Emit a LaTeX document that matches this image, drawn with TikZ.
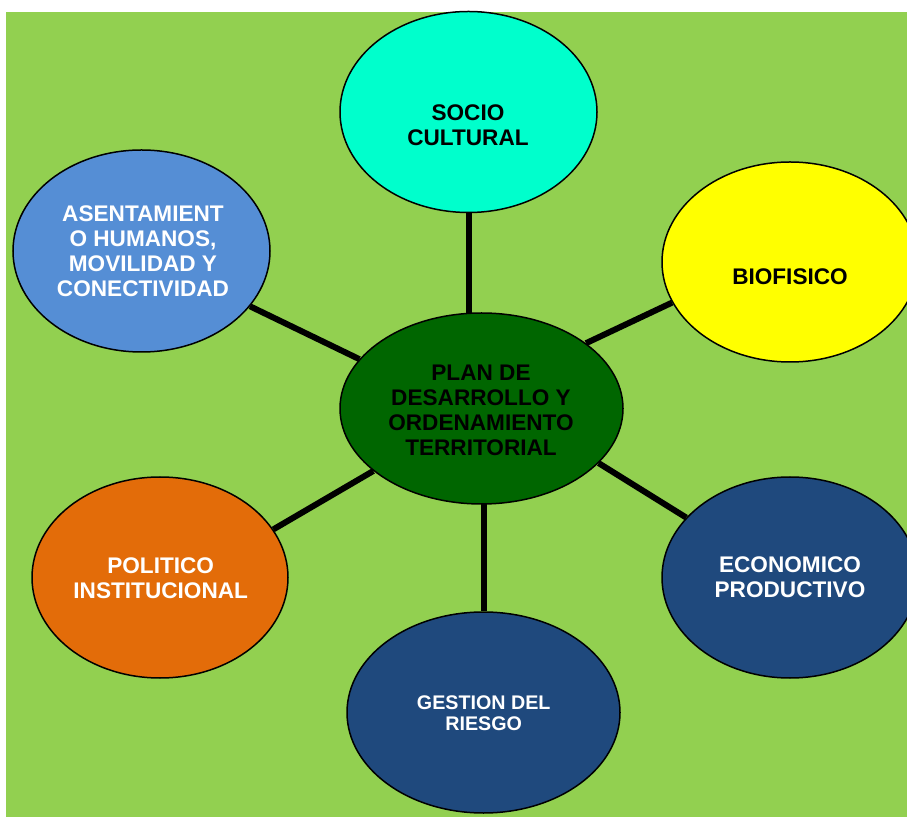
\documentclass[tikz,border=0pt]{standalone}
\usepackage{fontspec}
\setmainfont{Liberation Sans}
\usetikzlibrary{shapes.geometric}
\definecolor{bggreen}{HTML}{92D050}
\definecolor{aquaC}{HTML}{00FFCC}
\definecolor{yellowC}{HTML}{FFFF00}
\definecolor{blueC}{HTML}{558ED5}
\definecolor{darkgreenC}{HTML}{006600}
\definecolor{navyC}{HTML}{1F497D}
\definecolor{orangeC}{HTML}{E36C09}
\pgfdeclarelayer{background}
\pgfsetlayers{background,main}
\tikzset{
  bubble/.style={ellipse, draw=black, line width=1.5pt, inner sep=0pt},
  bubbletext/.style={align=center, inner sep=0pt, font=\fontsize{22.6}{25}\selectfont\bfseries},
  smalltext/.style={align=center, inner sep=0pt, font=\fontsize{19.7}{21}\selectfont\bfseries},
  link/.style={draw=black, line width=6pt}
}
\begin{document}
\begin{tikzpicture}[x=1pt,y=1pt]
\useasboundingbox (0,0) rectangle (907,817);
% ellipses
\node[bubble, fill=aquaC, minimum width=257pt, minimum height=201pt] (socio) at (468.5,705) {};
\node[bubble, fill=yellowC, minimum width=256pt, minimum height=200pt] (bio) at (790,555) {};
\node[bubble, fill=blueC, minimum width=257pt, minimum height=202pt] (asent) at (141.5,566) {};
\node[bubble, fill=darkgreenC, minimum width=283pt, minimum height=191pt] (central) at (481.5,408.5) {};
\node[bubble, fill=navyC, minimum width=256pt, minimum height=201pt] (econ) at (790,239.5) {};
\node[bubble, fill=navyC, minimum width=273pt, minimum height=201pt] (gestion) at (483.5,104.5) {};
\node[bubble, fill=orangeC, minimum width=256pt, minimum height=201pt] (politico) at (160,239.5) {};
% texts
\node[bubbletext, text=black] (sociot) at (468,691.5) {SOCIO\\CULTURAL};
\node[bubbletext, text=black] (biot) at (790,540) {BIOFISICO};
\node[bubbletext, text=white] (asentt) at (143,565.5) {ASENTAMIENT\\O HUMANOS,\\MOVILIDAD Y\\CONECTIVIDAD};
\node[bubbletext, text=black] (centralt) at (481,407) {PLAN DE\\DESARROLLO Y\\ORDENAMIENTO\\TERRITORIAL};
\node[bubbletext, text=white] (econt) at (790,239.5) {ECONOMICO\\PRODUCTIVO};
\node[smalltext, text=white] (gestiont) at (483.7,103.5) {GESTION DEL\\RIESGO};
\node[bubbletext, text=white] (politicot) at (160.7,239) {POLITICO\\INSTITUCIONAL};
% background and connectors
\begin{pgfonlayer}{background}
\fill[bggreen] (6,0) rectangle (907,805);
\coordinate (socioEnd) at (socio.south |- central.center);
\coordinate (gestionEnd) at (gestion.north |- central.center);
\draw[link] (socio.south) -- (socioEnd);
\draw[link] (gestion.north) -- (gestionEnd);
\draw[link] (central.32) -- (bio.199);
\draw[link] (asent.-27.3) -- (central.158.6);
\draw[link] (politico.23.4) -- (central.210.7);
\draw[link] (central.-25.3) -- (econ.150.7);
\end{pgfonlayer}
\end{tikzpicture}
\end{document}
